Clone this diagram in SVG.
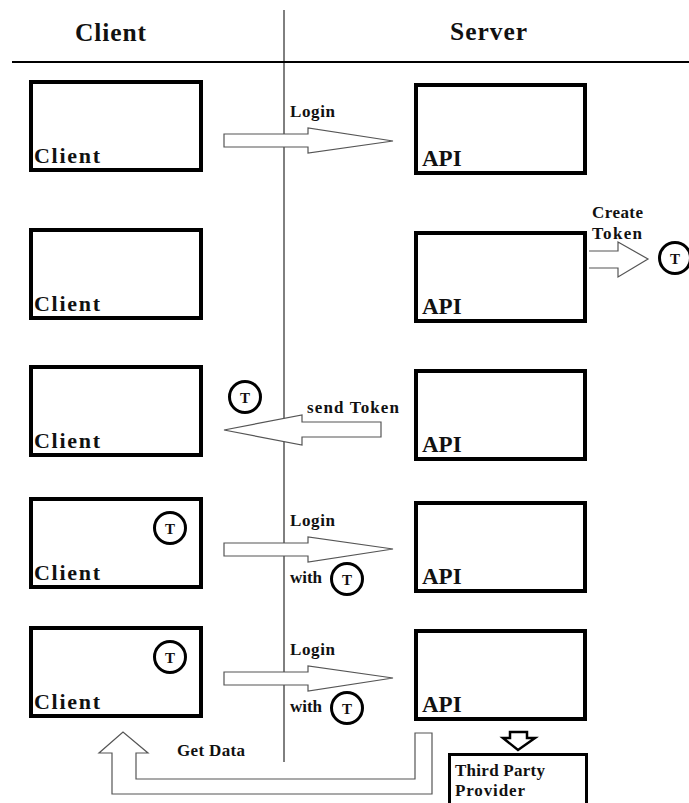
<svg xmlns="http://www.w3.org/2000/svg" width="689" height="803" viewBox="0 0 689 803">
<style>
.t{font-family:"Liberation Serif","Times New Roman",serif;font-weight:bold;fill:#111;}
.s{font-size:17px;}
.c{font-size:22px;}
.a{font-size:23px;}
.k{font-size:15px;}
.box{fill:#fff;stroke:#000;stroke-width:4;}
.arr{fill:#fff;stroke:#555;stroke-width:1.2;}
.tok{fill:#fff;stroke:#000;stroke-width:3;}
</style>
<rect width="689" height="803" fill="#fff"/>
<g id="lanes">
<line x1="284" y1="10" x2="284" y2="762" stroke="#000" stroke-width="1"/>
<line x1="12" y1="62" x2="689" y2="62" stroke="#000" stroke-width="2.2"/>
<text class="t" x="75" y="41" font-size="25.5" textLength="71" lengthAdjust="spacing">Client</text>
<text class="t" x="450" y="40" font-size="25.5" textLength="77" lengthAdjust="spacing">Server</text>
</g>
<g id="connectors">
<polygon class="arr" points="224,134 308,134 308,128 393,141 308,153 308,147 224,147"/>
<text class="t s" x="290" y="117" textLength="45" lengthAdjust="spacing">Login</text>
<path class="arr" d="M589,251 H618 V242 L648,259 L618,277 V268 H589"/>
<text class="t s" x="592" y="218" textLength="51" lengthAdjust="spacing">Create</text>
<text class="t s" x="592" y="239" textLength="50" lengthAdjust="spacing">Token</text>
<polygon class="arr" points="224,430 302,415 302,422 381,422 381,437 302,437 302,445"/>
<text class="t s" x="307" y="413" textLength="92" lengthAdjust="spacing">send Token</text>
<polygon class="arr" points="224,543 308,543 308,537 393,549 308,562 308,556 224,556"/>
<text class="t s" x="290" y="526" textLength="45" lengthAdjust="spacing">Login</text>
<text class="t s" x="290" y="583" textLength="32" lengthAdjust="spacing">with</text>
<polygon class="arr" points="224,672 308,672 308,666 393,678 308,691 308,685 224,685"/>
<text class="t s" x="290" y="655" textLength="45" lengthAdjust="spacing">Login</text>
<text class="t s" x="290" y="712" textLength="32" lengthAdjust="spacing">with</text>
<polygon class="arr" points="432,733 432,794 112,794 112,753 99,753 123,732 148,753 136,753 136,779 415,779 415,733"/>
<text class="t s" x="177" y="756" textLength="68" lengthAdjust="spacing">Get Data</text>
<polygon points="510,732 527,732 527,738 535,738 518,750 503,738 510,738" fill="#fff" stroke="#000" stroke-width="2.5"/>
</g>
<g id="client1"><rect class="box" x="31" y="82" width="170" height="88"/><text class="t c" x="34" y="163" textLength="66" lengthAdjust="spacing">Client</text></g>
<g id="client2"><rect class="box" x="31" y="230" width="170" height="88"/><text class="t c" x="34" y="311" textLength="66" lengthAdjust="spacing">Client</text></g>
<g id="client3"><rect class="box" x="31" y="367" width="170" height="88"/><text class="t c" x="34" y="448" textLength="66" lengthAdjust="spacing">Client</text></g>
<g id="client4"><rect class="box" x="31" y="499" width="170" height="88"/><text class="t c" x="34" y="580" textLength="66" lengthAdjust="spacing">Client</text></g>
<g id="client5"><rect class="box" x="31" y="628" width="170" height="88"/><text class="t c" x="34" y="709" textLength="66" lengthAdjust="spacing">Client</text></g>
<g id="api1"><rect class="box" x="416" y="85" width="169" height="88"/><text class="t a" x="422" y="166">API</text></g>
<g id="api2"><rect class="box" x="416" y="233" width="169" height="88"/><text class="t a" x="422" y="314">API</text></g>
<g id="api3"><rect class="box" x="416" y="371" width="169" height="88"/><text class="t a" x="422" y="452">API</text></g>
<g id="api4"><rect class="box" x="416" y="503" width="169" height="88"/><text class="t a" x="422" y="584">API</text></g>
<g id="api5"><rect class="box" x="416" y="631" width="169" height="88"/><text class="t a" x="422" y="712">API</text></g>
<g id="thirdparty"><rect x="449.5" y="754.5" width="137" height="60" fill="#fff" stroke="#000" stroke-width="3"/><text class="t s" x="455" y="776" textLength="90" lengthAdjust="spacing">Third Party</text><text class="t s" x="455" y="796" textLength="70" lengthAdjust="spacing">Provider</text></g>
<g id="token1"><circle class="tok" cx="675" cy="258" r="15.5"/><text class="t k" x="675" y="263.5" text-anchor="middle">T</text></g>
<g id="token2"><circle class="tok" cx="245" cy="397" r="15.5"/><text class="t k" x="245" y="402.5" text-anchor="middle">T</text></g>
<g id="token3"><circle class="tok" cx="170" cy="528" r="15.5"/><text class="t k" x="170" y="533.5" text-anchor="middle">T</text></g>
<g id="token4"><circle class="tok" cx="347" cy="579" r="15.5"/><text class="t k" x="347" y="584.5" text-anchor="middle">T</text></g>
<g id="token5"><circle class="tok" cx="170" cy="657" r="15.5"/><text class="t k" x="170" y="662.5" text-anchor="middle">T</text></g>
<g id="token6"><circle class="tok" cx="347" cy="708" r="15.5"/><text class="t k" x="347" y="713.5" text-anchor="middle">T</text></g>
</svg>
